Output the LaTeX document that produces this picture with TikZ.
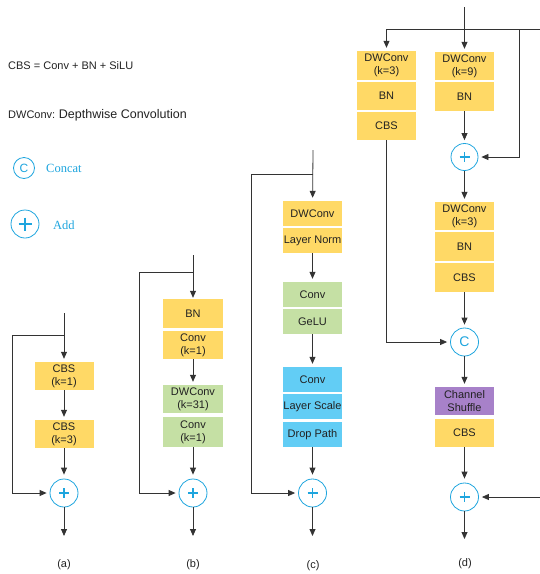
\documentclass[tikz,border=0pt]{standalone}
\usepackage{fontspec}
\setmainfont{Liberation Sans}
\newfontfamily\serifface{Liberation Serif}
\usetikzlibrary{arrows.meta,calc}
\definecolor{yelc}{HTML}{FFD966}
\definecolor{grnc}{HTML}{C5E0A4}
\definecolor{bluc}{HTML}{62CDF5}
\definecolor{purc}{HTML}{A781C9}
\definecolor{cyac}{HTML}{1EA5DE}
\definecolor{linc}{HTML}{333333}
\definecolor{txtc}{HTML}{222222}
\begin{document}
\begin{tikzpicture}[x=1pt,y=-1pt,
  box/.style={minimum width=59pt, inner sep=0pt, align=center, text=txtc,
    font=\fontsize{11}{13}\selectfont},
  yel/.style={box, fill=yelc},
  grn/.style={box, fill=grnc},
  blu/.style={box, fill=bluc},
  pur/.style={box, fill=purc},
  arr/.style={draw=linc, line width=0.8pt, -{Triangle[length=7pt,width=6pt]}, shorten >=3pt},
  ln/.style={draw=linc, line width=0.8pt},
  addc/.style={circle, draw=cyac, line width=0.8pt, minimum size=28pt, inner sep=0pt,
    path picture={\draw[cyac, line width=1.8pt]
      ($(path picture bounding box.center)+(-5,0)$) -- ++(10,0)
      ($(path picture bounding box.center)+(0,-5)$) -- ++(0,10);}},
  catc/.style={circle, draw=cyac, line width=0.8pt, minimum size=28pt, inner sep=0pt,
    text=cyac, font=\fontsize{14}{14}\selectfont},
  lab/.style={font=\fontsize{11}{13}\selectfont, text=txtc}
]
\useasboundingbox (0,0) rectangle (540,574);

% ---------- legend ----------
\node[lab, anchor=west, inner sep=0] (l1) at (8,66) {CBS = Conv + BN + SiLU};
\node[anchor=west, inner sep=0, text=txtc] (l2) at (8,115)
  {{\fontsize{11}{13}\selectfont DWConv:} {\fontsize{12.5}{14}\selectfont Depthwise Convolution}};
\node[catc, minimum size=21pt, font=\fontsize{12}{12}\selectfont] (lc) at (24,168) {C};
\node[anchor=west, inner sep=0, text=cyac, font=\serifface\fontsize{12.5}{14}\selectfont] (lct) at (46,168) {Concat};
\node[addc, path picture={\draw[cyac, line width=2pt]
      ($(path picture bounding box.center)+(-6.5,0)$) -- ++(13,0)
      ($(path picture bounding box.center)+(0,-6.5)$) -- ++(0,13);}] (la) at (25,224) {};
\node[anchor=west, inner sep=0, text=cyac, font=\serifface\fontsize{12.5}{14}\selectfont] (lat) at (53,225) {Add};

% ---------- (a) ----------
\coordinate (atop) at (64,313);
\coordinate (abr) at (64,335);
\coordinate (aleft) at (12,335);
\node[yel, minimum height=28pt] (a1) at (64,376) {CBS\\(k=1)};
\node[yel, minimum height=28pt] (a2) at (64,434) {CBS\\(k=3)};
\node[addc] (aadd) at (64,493) {};
\coordinate (aout) at (64,536);
\draw[arr] (atop) -- (a1);
\draw[arr] (a1) -- (a2);
\draw[arr, shorten >=4pt] (a2) -- (aadd);
\draw[arr] (abr) -- (aleft) |- (aadd);
\draw[arr, shorten >=0pt] (aadd) -- (aout);
\node[lab] (alab) at (64,565) {(a)};

% ---------- (b) ----------
\coordinate (btop) at (193,255);
\coordinate (bbr) at (193,272);
\coordinate (bleft) at (139,272);
\node[yel, minimum height=29pt, minimum width=60pt] (b1) at (193,313.5) {BN};
\node[yel, minimum height=28pt, minimum width=60pt] (b2) at (193,345) {Conv\\(k=1)};
\node[grn, minimum height=28pt, minimum width=60pt] (b3) at (193,399) {DWConv\\(k=31)};
\node[grn, minimum height=30pt, minimum width=60pt] (b4) at (193,432) {Conv\\(k=1)};
\node[addc] (badd) at (193,493) {};
\coordinate (bout) at (193,536);
\draw[arr, shorten >=1pt] (btop) -- (b1);
\draw[arr] (b2) -- (b3);
\draw[arr, shorten >=4pt] (b4) -- (badd);
\draw[arr] (bbr) -- (bleft) |- (badd);
\draw[arr, shorten >=0pt] (badd) -- (bout);
\node[lab] (blab) at (193,565) {(b)};

% ---------- (c) ----------
\coordinate (ctop) at (313,150);
\coordinate (cbr) at (313,174);
\coordinate (cleft) at (251,174);
\node[yel, minimum height=25pt] (c1) at (312.5,213.5) {DWConv};
\node[yel, minimum height=25pt] (c2) at (312.5,240.5) {Layer Norm};
\node[grn, minimum height=25pt] (c3) at (312.5,294.5) {Conv};
\node[grn, minimum height=25pt] (c4) at (312.5,321.5) {GeLU};
\node[blu, minimum height=25pt] (c5) at (312.5,379.5) {Conv};
\node[blu, minimum height=25pt] (c6) at (312.5,406.5) {Layer Scale};
\node[blu, minimum height=25pt] (c7) at (312.5,434.5) {Drop Path};
\node[addc] (cadd) at (312.5,493) {};
\coordinate (cout) at (312.5,536);
\draw[arr] (ctop) -- (c1);
\draw[arr] (c2) -- (c3);
\draw[arr] (c4) -- (c5);
\draw[arr, shorten >=4pt] (c7) -- (cadd);
\draw[arr] (cbr) -- (cleft) |- (cadd);
\draw[arr, shorten >=0pt] (cadd) -- (cout);
\node[lab] (clab) at (313,566) {(c)};

% ---------- (d) ----------
\coordinate (dtop) at (464.5,7);
\coordinate (dbrl) at (386.5,29);
\coordinate (dbrr) at (519,29);
\coordinate (dedge) at (540,29);
\coordinate (dedge2) at (540,497);
\node[yel, minimum height=29pt] (d1) at (386.5,65.5) {DWConv\\(k=3)};
\node[yel, minimum height=28pt] (d2) at (386.5,96) {BN};
\node[yel, minimum height=28pt] (d3) at (386.5,126) {CBS};
\node[yel, minimum height=28pt] (d4) at (464.5,66) {DWConv\\(k=9)};
\node[yel, minimum height=29pt] (d5) at (464.5,96.5) {BN};
\node[addc, minimum size=27pt] (dadd1) at (464.5,157) {};
\node[yel, minimum height=28pt] (d6) at (464.5,216) {DWConv\\(k=3)};
\node[yel, minimum height=29pt] (d7) at (464.5,246.5) {BN};
\node[yel, minimum height=29pt] (d8) at (464.5,277.5) {CBS};
\node[catc] (dcat) at (464.5,342) {C};
\node[pur, minimum height=28pt] (d9) at (464.5,401) {Channel\\Shuffle};
\node[yel, minimum height=28pt] (d10) at (464.5,433) {CBS};
\node[addc] (dadd2) at (464.5,497) {};
\coordinate (dout) at (464.5,539);
\coordinate (dleft) at (386.5,342);
\draw[arr] (dtop) -- (d4);
\draw[ln] (dbrl) -- (dedge);
\draw[arr] (dbrl) -- (d1);
\draw[arr] (d5) -- (dadd1);
\draw[arr] (dbrr) |- (dadd1);
\draw[arr] (dadd1) -- (d6);
\draw[arr] (d8) -- (dcat);
\draw[arr] (d3) -- (dleft) -- (dcat);
\draw[arr] (dcat) -- (d9);
\draw[arr, shorten >=4pt] (d10) -- (dadd2);
\draw[arr] (dedge2) -- (dadd2);
\draw[arr, shorten >=0pt] (dadd2) -- (dout);
\node[lab] (dlab) at (465,564) {(d)};
\end{tikzpicture}
\end{document}
